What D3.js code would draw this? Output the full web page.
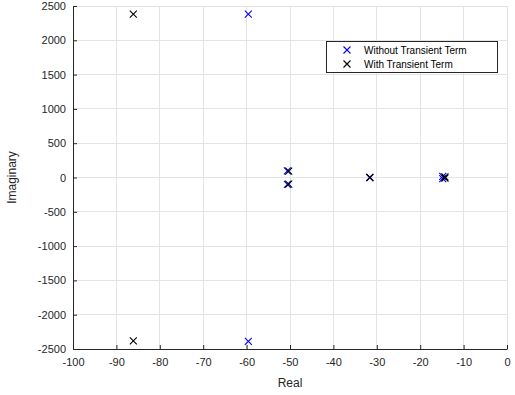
<!DOCTYPE html>
<html><head><meta charset="utf-8">
<script src="https://cdn.jsdelivr.net/npm/d3@7"></script>
<style>body{margin:0;background:#fff}svg{display:block}text{font-family:"Liberation Sans",Arial,sans-serif}</style>
</head><body>
<svg id="c" width="515" height="395"></svg>
<script>
const seriesNames = ["Without Transient Term", "With Transient Term"];
const seriesColors = ["#0000ff", "#000000"];
const withoutReal = [-59.6, -59.6, -50.6, -50.6, -31.6, -14.8, -14.8];
const withoutImag = [2380, -2390, 97, -101, 0, 15, -15];
const withReal = [-86.1, -86.1, -50.3, -50.3, -31.6, -14.3, -14.3];
const withImag = [2383, -2380, 93, -97, 0, 10, -10];
const xTicks = [-100, -90, -80, -70, -60, -50, -40, -30, -20, -10, 0];
const yTicks = [-2500, -2000, -1500, -1000, -500, 0, 500, 1000, 1500, 2000, 2500];

const svg = d3.select("#c");
const L = 73, R = 507, T = 6, B = 349;
const x = d3.scaleLinear().domain([-100, 0]).range([L, R]);
const y = d3.scaleLinear().domain([-2500, 2500]).range([B, T]);

// grid
const g = svg.append("g");
g.selectAll(".gx").data(xTicks).enter().append("line")
  .attr("x1", d => x(d)).attr("x2", d => x(d)).attr("y1", T).attr("y2", B)
  .attr("stroke", "#e3e3e3").attr("stroke-width", 1).attr("shape-rendering", "crispEdges");
g.selectAll(".gy").data(yTicks).enter().append("line")
  .attr("y1", d => y(d)).attr("y2", d => y(d)).attr("x1", L).attr("x2", R)
  .attr("stroke", "#e3e3e3").attr("stroke-width", 1).attr("shape-rendering", "crispEdges");

// axes (inward ticks)
const fmt = d => String(d);
const xAxis = d3.axisBottom(x).tickValues(xTicks).tickFormat(fmt).tickSizeInner(-4).tickSizeOuter(0).tickPadding(9);
const yAxis = d3.axisLeft(y).tickValues(yTicks).tickFormat(fmt).tickSizeInner(-4).tickSizeOuter(0).tickPadding(7);
const gx = svg.append("g").attr("transform", `translate(0,${B})`).call(xAxis);
const gy = svg.append("g").attr("transform", `translate(${L},0)`).call(yAxis);
[gx, gy].forEach(a => {
  a.select(".domain").attr("stroke", "#262626").attr("stroke-width", 1);
  a.selectAll(".tick line").attr("stroke", "#262626");
  a.selectAll(".tick text").attr("fill", "#262626").style("font-size", "11px").style("font-family", '"Liberation Sans",Arial,sans-serif');
});

// markers
function drawX(sel, cx, cy, color) {
  const s = 3.5;
  sel.append("path")
    .attr("d", `M${cx - s},${cy - s}L${cx + s},${cy + s}M${cx - s},${cy + s}L${cx + s},${cy - s}`)
    .attr("stroke", color).attr("stroke-width", 1.1).attr("fill", "none");
}
const mk = svg.append("g");
withoutReal.forEach((r, i) => drawX(mk, x(r), y(withoutImag[i]), seriesColors[0]));
withReal.forEach((r, i) => drawX(mk, x(r), y(withImag[i]), seriesColors[1]));

// axis labels
svg.append("text").attr("x", (L + R) / 2).attr("y", 387).attr("text-anchor", "middle")
  .attr("fill", "#262626").style("font-size", "12px").text("Real");
svg.append("text").attr("transform", `translate(16,${(T + B) / 2}) rotate(-90)`).attr("text-anchor", "middle")
  .attr("fill", "#262626").style("font-size", "12px").text("Imaginary");

// legend
const lg = svg.append("g");
const lx = 326, ly = 41, lw = 171, lh = 31;
lg.append("rect").attr("x", lx + 0.5).attr("y", ly + 0.5).attr("width", lw).attr("height", lh)
  .attr("fill", "#fff").attr("stroke", "#262626").attr("stroke-width", 1);
seriesNames.forEach((n, i) => {
  const cy = ly + 9 + i * 14;
  drawX(lg, lx + 21, cy, seriesColors[i]);
  lg.append("text").attr("x", lx + 38).attr("y", cy + 3.5).attr("fill", "#000")
    .style("font-size", "10px").text(n);
});
</script>
</body></html>
